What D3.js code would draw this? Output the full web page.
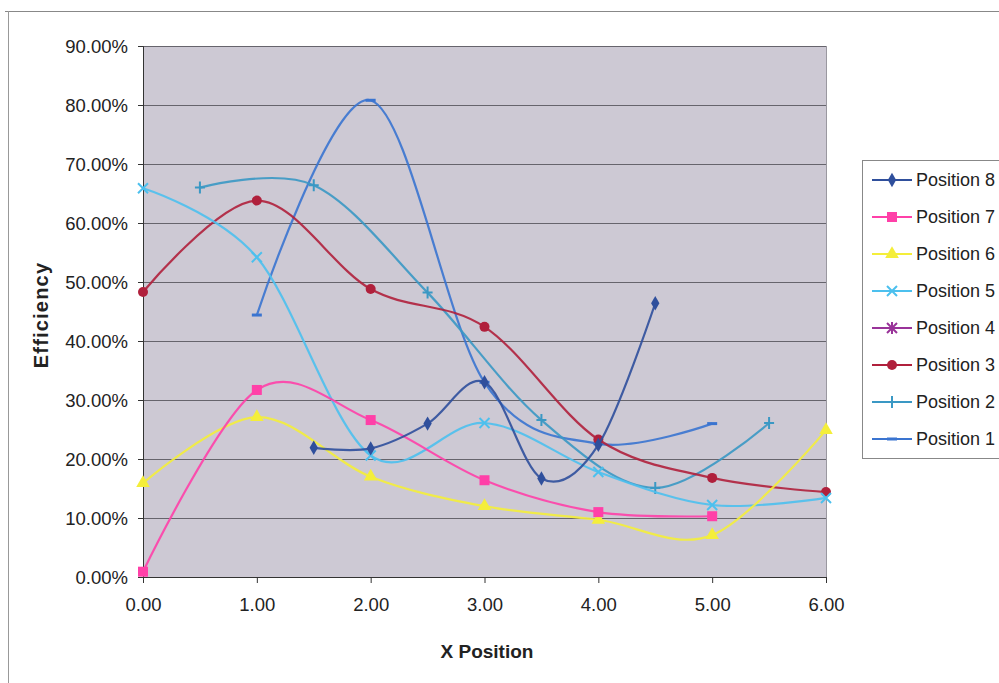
<!DOCTYPE html>
<html><head><meta charset="utf-8">
<script src="https://cdn.jsdelivr.net/npm/d3@7"></script>
<style>body{margin:0;background:#fff}svg{display:block}text{font-family:"Liberation Sans",Arial,sans-serif}</style>
</head><body>
<script>
const seriesNames = ["Position 8","Position 7","Position 6","Position 5","Position 4","Position 3","Position 2","Position 1"];
const pos8 = [[1.5,21.9],[2.0,21.8],[2.5,26.0],[3.0,33.0],[3.5,16.7],[4.0,22.4],[4.5,46.4]];
const pos7 = [[0,0.9],[1,31.7],[2,26.6],[3,16.4],[4,11.0],[5,10.3]];
const pos6 = [[0,15.9],[1,27.1],[2,17.0],[3,12.0],[4,9.7],[5,7.1],[6,24.9]];
const pos5 = [[0,65.9],[1,54.2],[2,20.6],[3,26.1],[4,17.8],[5,12.2],[6,13.4]];
const pos4 = [];
const pos3 = [[0,48.3],[1,63.8],[2,48.8],[3,42.4],[4,23.3],[5,16.8],[6,14.4]];
const pos2 = [[0.5,66.0],[1.5,66.4],[2.5,48.2],[3.5,26.6],[4.5,15.1],[5.5,26.1]];
const pos1 = [[1,44.4],[2,80.8],[3,33.0],[4,22.6],[5,26.0]];
const xTicks = [0,1,2,3,4,5,6];
const yTicks = [0,10,20,30,40,50,60,70,80,90];

const allData = [pos8,pos7,pos6,pos5,pos4,pos3,pos2,pos1];
const colors = ["#2f4f9c","#ff40a8","#f4ee3a","#4cc0ee","#993399","#b0203c","#3a98c4","#3a74d0"];
const markers = ["diamond","square","triangle","x","asterisk","circle","plus","dash"];

const W=999,H=683;
const svg=d3.select("body").append("svg").attr("width",W).attr("height",H);
const L=143,R=826,T=46,B=577;
const x=d3.scaleLinear().domain([0,6]).range([L,R]);
const y=d3.scaleLinear().domain([0,90]).range([B,T]);

// outer border
svg.append("line").attr("x1",5).attr("x2",999).attr("y1",11.5).attr("y2",11.5).attr("stroke","#888");
svg.append("line").attr("x1",8.5).attr("x2",8.5).attr("y1",11).attr("y2",683).attr("stroke","#999");

// plot bg
svg.append("rect").attr("x",L).attr("y",T).attr("width",R-L).attr("height",B-T).attr("fill","#cdc9d4");

// gridlines
svg.append("g").selectAll("line").data(yTicks.filter(d=>d>0)).join("line")
  .attr("x1",L).attr("x2",R).attr("y1",d=>Math.round(y(d))+0.5).attr("y2",d=>Math.round(y(d))+0.5)
  .attr("stroke","#66646c").attr("stroke-width",1);
svg.append("line").attr("x1",R+0.5).attr("x2",R+0.5).attr("y1",T).attr("y2",B).attr("stroke","#9a98a0");

// axes
const yAxis=d3.axisLeft(y).tickValues(yTicks).tickFormat(d=>d3.format(".2f")(d)+"%").tickSize(5).tickPadding(10);
const gy=svg.append("g").attr("transform",`translate(${L},0)`).call(yAxis);
const xAxis=d3.axisBottom(x).tickValues(xTicks).tickFormat(d3.format(".2f")).tickSize(6).tickPadding(15);
const gx=svg.append("g").attr("transform",`translate(0,${B})`).call(xAxis);
[gy,gx].forEach(g=>{
  g.select(".domain").attr("stroke","#333");
  g.selectAll(".tick line").attr("stroke","#333");
  g.selectAll("text").attr("font-size","18.5px").attr("fill","#222").attr("font-family","'Liberation Sans',Arial,sans-serif");
});
gy.selectAll("text").attr("dy","0.36em");

// titles
svg.append("text").attr("transform","translate(48,315) rotate(-90)").attr("text-anchor","middle")
  .attr("font-size","20px").attr("letter-spacing","1.2px").attr("font-weight","bold").attr("fill","#222").text("Efficiency");
svg.append("text").attr("x",487).attr("y",658).attr("text-anchor","middle")
  .attr("font-size","19px").attr("font-weight","bold").attr("fill","#222").text("X Position");

function marker(g,type,c){
  const s=5;
  if(type==="diamond") g.append("path").attr("d",d3.symbol(d3.symbolDiamond,60)()).attr("fill",c);
  else if(type==="square") g.append("rect").attr("x",-5).attr("y",-5).attr("width",10).attr("height",10).attr("fill",c);
  else if(type==="triangle") g.append("path").attr("d",d3.symbol(d3.symbolTriangle,80)()).attr("fill",c);
  else if(type==="circle") g.append("circle").attr("r",5).attr("fill",c);
  else if(type==="x") g.append("path").attr("d",`M${-s},${-s}L${s},${s}M${-s},${s}L${s},${-s}`).attr("stroke",c).attr("stroke-width",2);
  else if(type==="asterisk") g.append("path").attr("d",`M${-s},${-s}L${s},${s}M${-s},${s}L${s},${-s}M0,${-s-1}L0,${s+1}`).attr("stroke",c).attr("stroke-width",2);
  else if(type==="plus") g.append("path").attr("d",`M0,${-s-1}L0,${s+1}M${-s},0L${s},0`).attr("stroke",c).attr("stroke-width",2);
  else if(type==="dash") g.append("path").attr("d",`M${-s},0L${s},0`).attr("stroke",c).attr("stroke-width",3);
}

const line=d3.line().x(d=>x(d[0])).y(d=>y(d[1])).curve(d3.curveCardinal.tension(0));
const plot=svg.append("g");
for(let i=allData.length-1;i>=0;i--){
  const data=allData[i];
  if(!data.length) continue;
  plot.append("path").datum(data).attr("d",line).attr("fill","none").attr("stroke",colors[i]).attr("stroke-width",2.2).attr("stroke-opacity",0.9);
  data.forEach(d=>{
    const g=plot.append("g").attr("transform",`translate(${x(d[0])},${y(d[1])})`);
    marker(g,markers[i],colors[i]);
  });
}

// legend
const lg=svg.append("g");
lg.append("rect").attr("x",862.5).attr("y",160.5).attr("width",150).attr("height",298).attr("fill","#fff").attr("stroke","#888");
seriesNames.forEach((n,i)=>{
  const cy=180+i*37;
  lg.append("line").attr("x1",872).attr("x2",912).attr("y1",cy).attr("y2",cy).attr("stroke",colors[i]).attr("stroke-width",2);
  const g=lg.append("g").attr("transform",`translate(892,${cy})`);
  marker(g,markers[i],colors[i]);
  lg.append("text").attr("x",916).attr("y",cy).attr("dy","0.36em").attr("font-size","18px").attr("fill","#222").text(n);
});
</script>
</body></html>
